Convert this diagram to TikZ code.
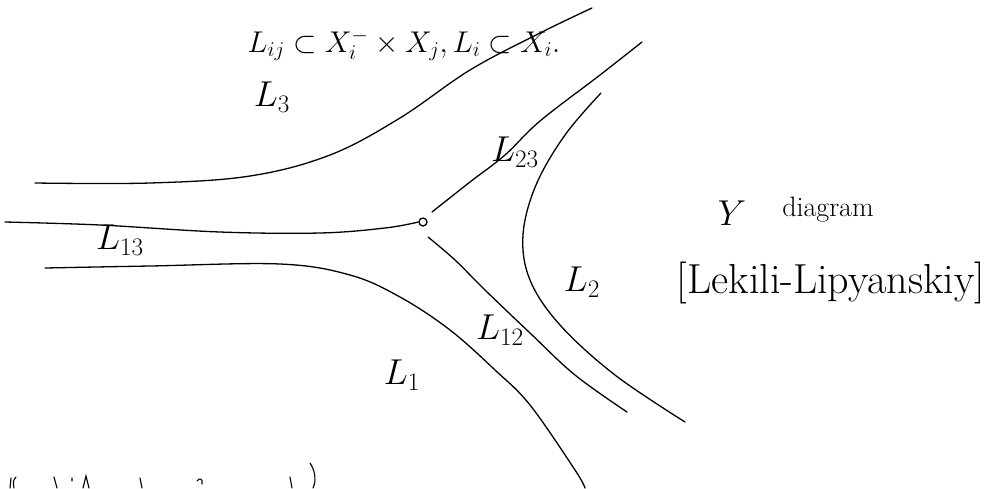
\RequirePackage{fix-cm}
\documentclass[tikz,border=0pt]{standalone}
\begin{document}
\begin{tikzpicture}[x=1pt,y=-1pt,
  curve/.style={line width=1.3pt, line cap=round, line join=round},
  lbl/.style={inner sep=0pt, font=\fontsize{36}{40}\selectfont},
  small/.style={inner sep=0pt, font=\fontsize{28}{32}\selectfont}]
\useasboundingbox (0,0) rectangle (1003,488);
% junction
\node[draw, circle, line width=1.3pt, minimum size=8pt, inner sep=0pt] (j) at (423,222) {};
% L3 upper boundary
\draw[curve] plot[smooth, tension=0.6] coordinates {(35,183) (150,183) (250,176) (330,155) (400,118) (470,70) (540,33) (592,8)};
% L13 line into junction
\draw[curve] plot[smooth, tension=0.6] coordinates {(5,222) (100,225) (220,232) (320,233) (385,228) (j.west)};
% L23 line from junction
\draw[curve] plot[smooth, tension=0.6] coordinates {(432,212) (470,182) (505,155) (540,121) (600,75) (642,42)};
% L12 line from junction
\draw[curve] plot[smooth, tension=0.6] coordinates {(428,237) (455,260) (485,290) (530,333) (575,375) (627,412)};
% L1 lower boundary
\draw[curve] plot[smooth, tension=0.6] coordinates {(45,268) (150,266) (280,264) (350,275) (400,297) (450,330) (495,370) (530,405) (575,470) (585,488)};
% L2 boundary
\draw[curve] plot[smooth, tension=0.6] coordinates {(601,93) (565,135) (536,185) (523,235) (530,280) (560,325) (615,375) (685,422)};
% labels
\node[lbl, font=\fontsize{30}{34}\selectfont] (t) at (404,45) {$L_{ij}\subset X_i^{-}\times X_j, L_i\subset X_i.$};
\node[lbl] (l3) at (272,97) {$L_3$};
\node[lbl] (l23) at (515,152) {$L_{23}$};
\node[lbl] (l13) at (120,240) {$L_{13}$};
\node[lbl] (l2) at (582,282) {$L_2$};
\node[lbl] (l12) at (500,330) {$L_{12}$};
\node[lbl] (l1) at (402,375) {$L_1$};
\node[lbl] (y) at (732,213) {$Y$};
\node[small] (d) at (828,210) {diagram};
\node[lbl, font=\fontsize{42}{46}\selectfont] (ref) at (831,283) {[Lekili-Lipyanskiy]};
% cut-off text at bottom edge
\draw[line width=1.1pt, line cap=round] (11,478) -- (10,488) (16,477) .. controls (13,481) .. (14,488)
  (54,477) -- (57,488) (72,478) -- (72,481) (83,488) -- (86,476) -- (89,488)
  (140,478) -- (142,488) (197,481) .. controls (200,477) and (203,479) .. (202,484)
  (290,477) -- (292,488) (310,463) .. controls (316,472) and (316,482) .. (313,488);
\end{tikzpicture}
\end{document}
